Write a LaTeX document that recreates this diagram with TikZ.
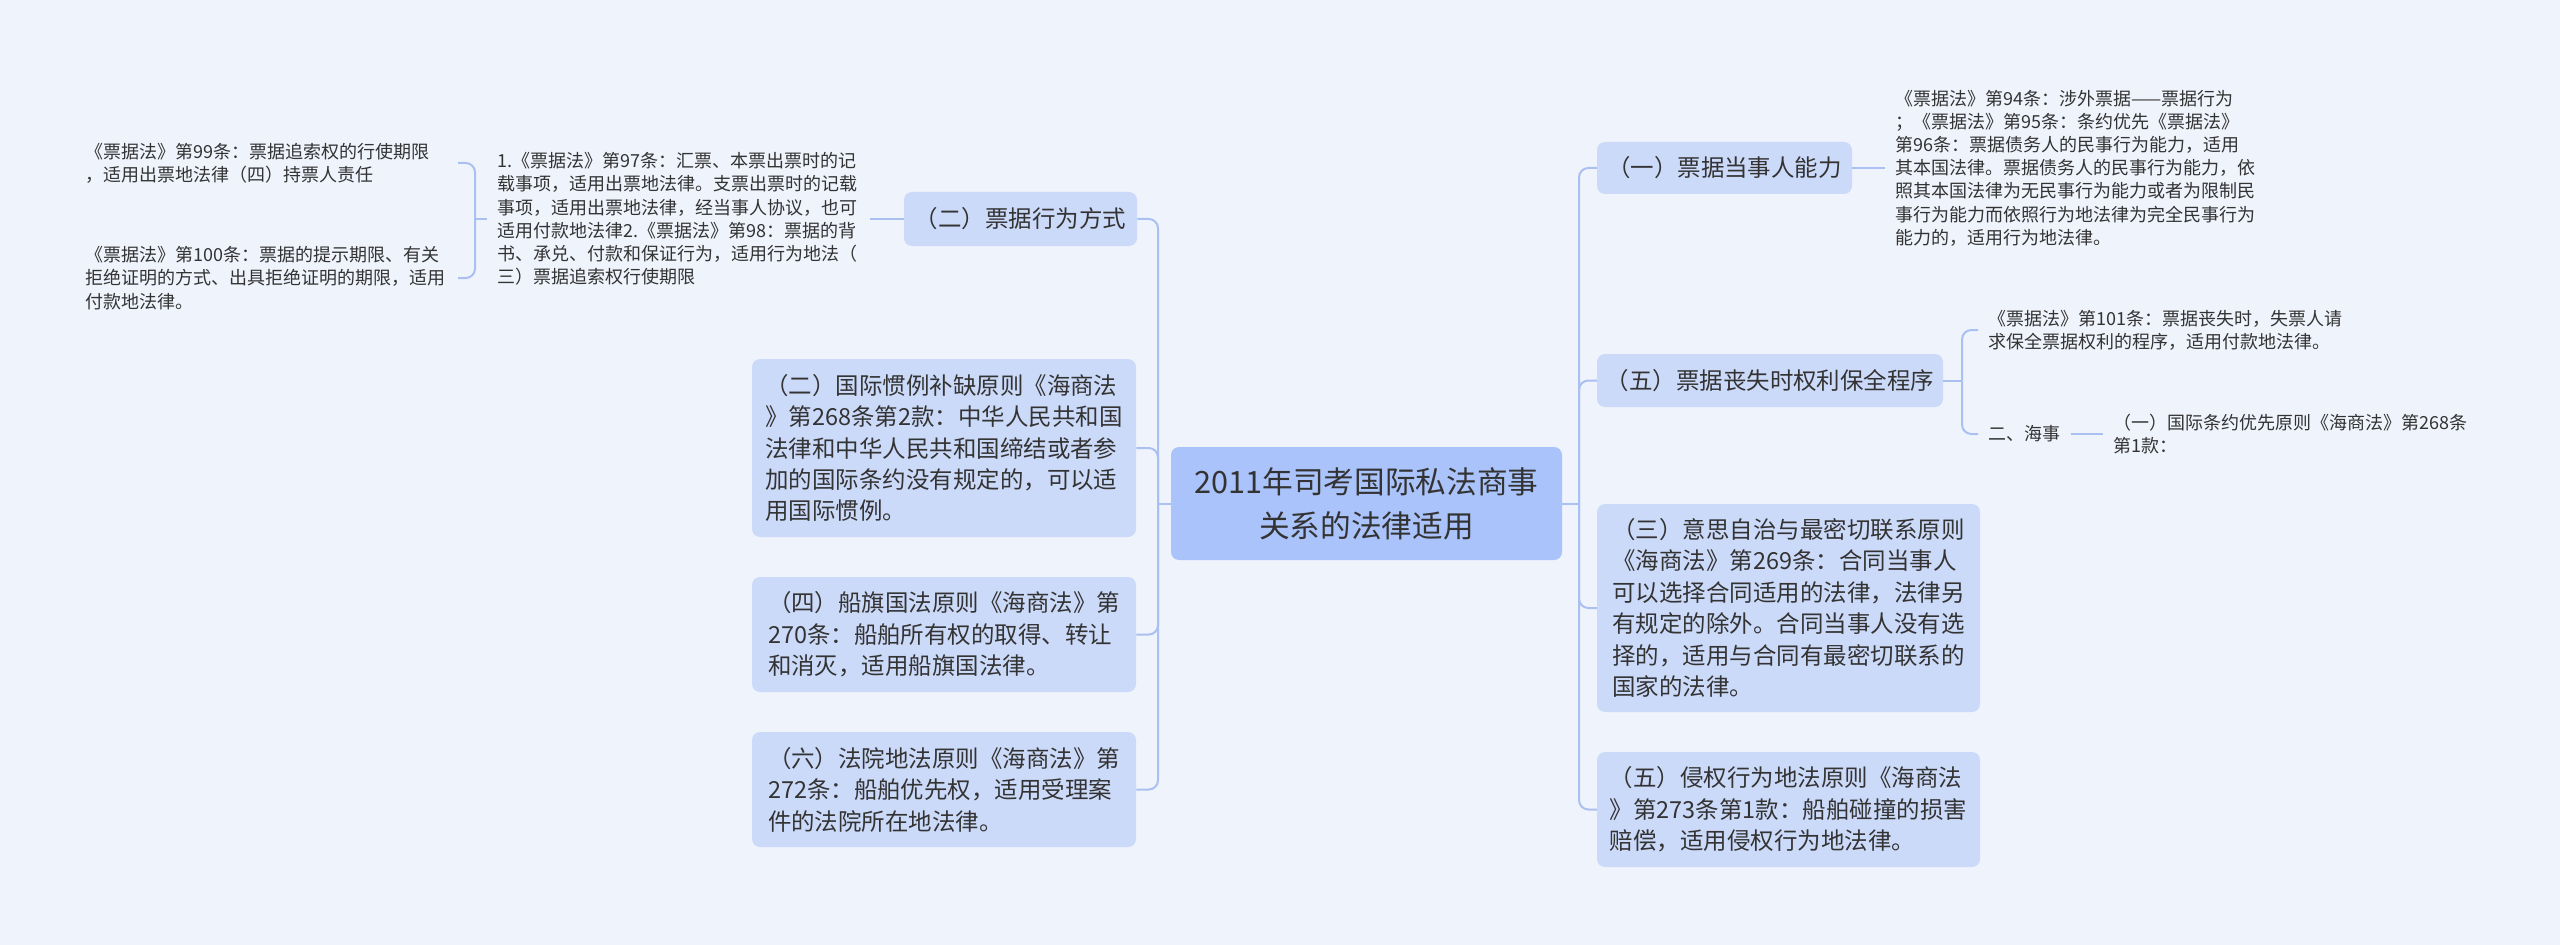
\documentclass[tikz,border=0pt]{standalone}
\usepackage{fontspec}
\newfontfamily\cjk{Noto Sans CJK SC}
\usepackage{tikz}
\definecolor{bgcolor}{RGB}{239,243,252}
\definecolor{rootfill}{RGB}{170,195,250}
\definecolor{topicfill}{RGB}{204,218,249}
\definecolor{linkcolor}{RGB}{170,192,240}
\definecolor{textcolor}{RGB}{51,51,51}

\begin{document}
\begin{tikzpicture}[
    x=0.75pt, y=-0.75pt,
    root/.style={fill=rootfill, rounded corners=6pt, inner sep=0pt, minimum width=293.25pt, minimum height=84.75pt, align=center, text=textcolor, font=\cjk\fontsize{23}{33}\selectfont},
    topic/.style={fill=topicfill, rounded corners=6pt, inner xsep=6pt, inner ysep=0pt, align=left, text=textcolor, font=\cjk\fontsize{17.6}{23.6}\selectfont},
    leaf/.style={inner xsep=7.5pt, inner ysep=2pt, align=left, text=textcolor, font=\cjk\fontsize{13.5}{17.4}\selectfont},
    link/.style={draw=linkcolor, line width=1.5pt, rounded corners=7pt}
]
  \fill[bgcolor] (0,0) rectangle (2560,945);

  \node[root] (root) at (1366.5,503.5) {2011年司考国际私法商事\\关系的法律适用};

  % left side
  \node[topic, minimum width=174.75pt, minimum height=40.5pt] (L1) at (1020.5,219) {（二）票据行为方式};
  \node[topic, minimum width=288pt, minimum height=133.5pt] (L2) at (944,448) {（二）国际惯例补缺原则《海商法\\》第268条第2款：中华人民共和国\\法律和中华人民共和国缔结或者参\\加的国际条约没有规定的，可以适\\用国际惯例。};
  \node[topic, minimum width=288pt, minimum height=86.25pt] (L3) at (944,634.5) {（四）船旗国法原则《海商法》第\\270条：船舶所有权的取得、转让\\和消灭，适用船旗国法律。};
  \node[topic, minimum width=288pt, minimum height=86.25pt] (L4) at (944,789.5) {（六）法院地法原则《海商法》第\\272条：船舶优先权，适用受理案\\件的法院所在地法律。};

  \node[leaf, text width=272pt, anchor=east] (B) at (870,219) {1.《票据法》第97条：汇票、本票出票时的记\\载事项，适用出票地法律。支票出票时的记载\\事项，适用出票地法律，经当事人协议，也可\\适用付款地法律2.《票据法》第98：票据的背\\书、承兑、付款和保证行为，适用行为地法（\\三）票据追索权行使期限};
  \node[leaf, text width=272pt, anchor=east] (A1) at (458,163) {《票据法》第99条：票据追索权的行使期限\\，适用出票地法律（四）持票人责任};
  \node[leaf, text width=272pt, anchor=east] (A2) at (458,278) {《票据法》第100条：票据的提示期限、有关\\拒绝证明的方式、出具拒绝证明的期限，适用\\付款地法律。};

  % right side
  \node[topic, minimum width=191.25pt, minimum height=39pt] (R1) at (1724.5,168) {（一）票据当事人能力};
  \node[topic, minimum width=259.5pt, minimum height=39.75pt] (R2) at (1770,380.5) {（五）票据丧失时权利保全程序};
  \node[topic, minimum width=287.25pt, minimum height=156pt] (R3) at (1788.5,608) {（三）意思自治与最密切联系原则\\《海商法》第269条：合同当事人\\可以选择合同适用的法律，法律另\\有规定的除外。合同当事人没有选\\择的，适用与合同有最密切联系的\\国家的法律。};
  \node[topic, minimum width=287.25pt, minimum height=86.25pt] (R4) at (1788.5,809.5) {（五）侵权行为地法原则《海商法\\》第273条第1款：船舶碰撞的损害\\赔偿，适用侵权行为地法律。};

  \node[leaf, anchor=west] (R1a) at (1885,168) {《票据法》第94条：涉外票据——票据行为\\；《票据法》第95条：条约优先《票据法》\\第96条：票据债务人的民事行为能力，适用\\其本国法律。票据债务人的民事行为能力，依\\照其本国法律为无民事行为能力或者为限制民\\事行为能力而依照行为地法律为完全民事行为\\能力的，适用行为地法律。};
  \node[leaf, anchor=west] (R2a) at (1978,330) {《票据法》第101条：票据丧失时，失票人请\\求保全票据权利的程序，适用付款地法律。};
  \node[leaf, anchor=west] (R2b) at (1978,434) {二、海事};
  \node[leaf, anchor=west] (R2c) at (2103,434) {（一）国际条约优先原则《海商法》第268条\\第1款：};

  % connectors
  \coordinate (lfork) at (1158,503.5);
  \coordinate (rfork) at (1579,503.5);
  \draw[link] (root.west) -- (lfork);
  \draw[link] (root.east) -- (rfork);
  \foreach \n in {L1,L2,L3,L4} \draw[link] (lfork) |- (\n.east);
  \foreach \n in {R1,R2,R3,R4} \draw[link] (rfork) |- (\n.west);

  \draw[link] (L1.west) -- (B.east);
  \coordinate (bfork) at (475,219);
  \draw[link] (B.west) -- (bfork);
  \foreach \n in {A1,A2} \draw[link] (bfork) |- (\n.east);

  \draw[link] (R1.east) -- (R1a.west);
  \coordinate (r2fork) at (1962,380.5);
  \draw[link] (R2.east) -- (r2fork);
  \foreach \n in {R2a,R2b} \draw[link] (r2fork) |- (\n.west);
  \draw[link] (R2b.east) -- (R2c.west);
\end{tikzpicture}
\end{document}
